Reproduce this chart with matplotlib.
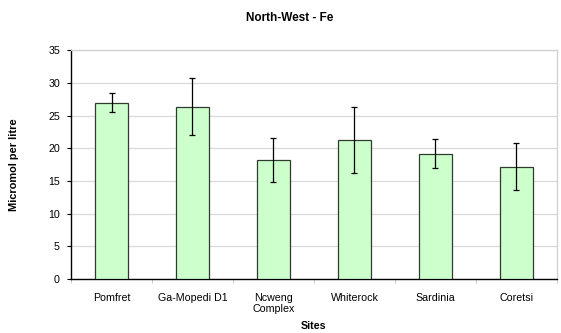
import matplotlib
matplotlib.use("Agg")
import matplotlib.pyplot as plt
import numpy as np

plt.rcParams['font.family'] = ['Liberation Sans', 'DejaVu Sans']

sites = ["Pomfret", "Ga-Mopedi D1", "Ncweng\nComplex", "Whiterock", "Sardinia", "Coretsi"]
fe_means = [27.0, 26.4, 18.2, 21.3, 19.2, 17.2]
fe_err = [1.5, 4.4, 3.4, 5.0, 2.2, 3.6]
y_ticks = [0, 5, 10, 15, 20, 25, 30, 35]

fig = plt.figure(figsize=(5.61, 3.33), dpi=100)
ax = fig.add_axes([0.1266, 0.1622, 0.866, 0.6864])

x = np.arange(len(sites))
ax.bar(x, fe_means, width=0.4, color='#ccffcc', edgecolor='#2e3b2e', linewidth=0.9, zorder=3)
ax.errorbar(x, fe_means, yerr=fe_err, fmt='none', ecolor='black', elinewidth=0.9,
            capsize=2.2, capthick=0.9, zorder=4)

ax.set_xlim(-0.5, len(sites) - 0.5)
ax.set_ylim(0, 35)
ax.set_yticks(y_ticks)
ax.yaxis.grid(True, color='#d9d9d9', linewidth=0.9, zorder=0)
ax.set_axisbelow(True)

ax.set_xticks(x)
ax.set_xticklabels(sites, fontsize=7.7)
ax.set_xticks(np.arange(len(sites) + 1) - 0.5, minor=True)
ax.tick_params(axis='x', which='major', length=0, pad=10)
ax.tick_params(axis='x', which='minor', length=3, color='#c0c0c0')
ax.tick_params(axis='y', labelsize=7.7, length=3, width=0.8, pad=5)

for side in ['left', 'bottom']:
    ax.spines[side].set_color('black')
    ax.spines[side].set_linewidth(1.0)
for side in ['top', 'right']:
    ax.spines[side].set_color('#d0d0d0')
    ax.spines[side].set_linewidth(0.9)

ax.set_xlabel("Sites", fontsize=7.7, fontweight='bold', labelpad=4.5)
ax.set_ylabel("Micromol per litre", fontsize=7.9, fontweight='bold', labelpad=21)
fig.text(0.517, 0.947, "North-West - Fe", ha='center', va='center', fontsize=8.5, fontweight='bold')

fig.savefig("out.png", dpi=100)
